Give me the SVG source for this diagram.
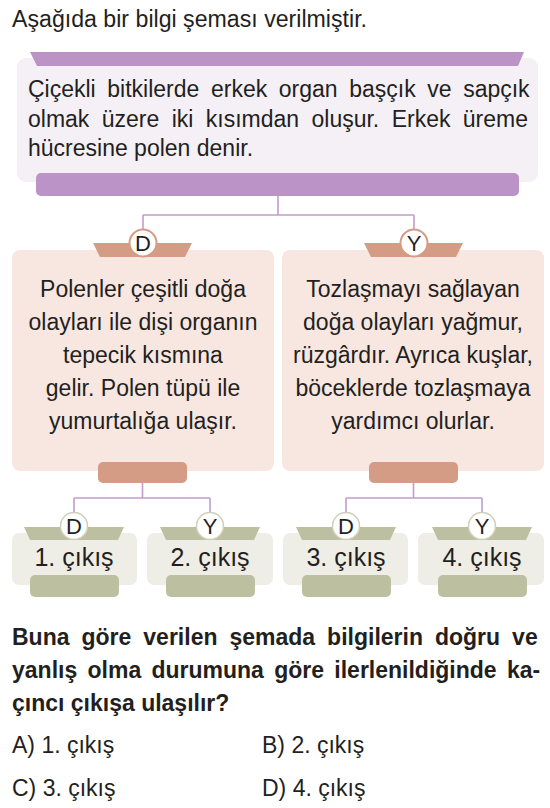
<svg xmlns="http://www.w3.org/2000/svg" width="550" height="808" viewBox="0 0 550 808">
<style>
text{font-family:"Liberation Sans",Arial,sans-serif;fill:#231f20}
.t{font-size:23px}
.c{text-anchor:middle}
.b{font-weight:bold}
.lav{fill:#f4f0f6}
.pur{fill:#bc93c6}
.peach{fill:#f8e7e0}
.tan{fill:#d59c85}
.olv{fill:#bdc0a0}
.ex{fill:#eeede6}
.ct{fill:#fff;stroke:#d59c85;stroke-width:2}
.cb{fill:#fff;stroke:#cfd0ba;stroke-width:1.5}
.lt{font-size:22px;text-anchor:middle}
.el{font-size:25px;text-anchor:middle}
.con{fill:none;stroke:#c29dcc;stroke-width:1.6}
</style>
<text class="t" x="12" y="27" textLength="355" lengthAdjust="spacingAndGlyphs">Aşağıda bir bilgi şeması verilmiştir.</text>

<g id="connectors">
<path class="con" d="M278,196V215M143,215H414M143,215V229M414,215V229"/>
<path class="con" d="M142.5,483V498M74,498H210M74,498V512.5M210,498V512.5"/>
<path class="con" d="M413.5,483V498M346,498H482M346,498V512.5M482,498V512.5"/>
</g>

<g id="info">
<rect class="lav" x="17" y="58" width="521" height="124" rx="9"/>
<polygon class="pur" points="30,52 524,52 518,66 37,66"/>
<text class="t" x="28" y="97" word-spacing="5.2">Çiçekli bitkilerde erkek organ başçık ve sapçık</text>
<text class="t" x="28" y="126.5" word-spacing="6">olmak üzere iki kısımdan oluşur. Erkek üreme</text>
<text class="t" x="28" y="156">hücresine polen denir.</text>
<rect class="pur" x="36" y="173" width="483" height="23" rx="5"/>
</g>

<g id="node-d">
<rect class="peach" x="12" y="250" width="262" height="221" rx="8"/>
<polygon class="tan" points="93,243 192,243 185,257 100,257"/>
<circle class="ct" cx="143" cy="243" r="13.5"/>
<text class="lt" x="143" y="251">D</text>
<text class="t c" x="143" y="297">Polenler çeşitli doğa</text>
<text class="t c" x="143" y="330">olayları ile dişi organın</text>
<text class="t c" x="143" y="363">tepecik kısmına</text>
<text class="t c" x="143" y="396">gelir. Polen tüpü ile</text>
<text class="t c" x="143" y="429">yumurtalığa ulaşır.</text>
<rect class="tan" x="98" y="462" width="89" height="21" rx="5"/>
</g>

<g id="node-y">
<rect class="peach" x="282" y="250" width="262" height="221" rx="8"/>
<polygon class="tan" points="364,243 463,243 456,257 371,257"/>
<circle class="ct" cx="414" cy="243" r="13.5"/>
<text class="lt" x="414" y="251">Y</text>
<text class="t c" x="413" y="297">Tozlaşmayı sağlayan</text>
<text class="t c" x="413" y="330">doğa olayları yağmur,</text>
<text class="t c" x="413" y="363">rüzgârdır. Ayrıca kuşlar,</text>
<text class="t c" x="413" y="396">böceklerde tozlaşmaya</text>
<text class="t c" x="413" y="429">yardımcı olurlar.</text>
<rect class="tan" x="369" y="462" width="89" height="21" rx="5"/>
</g>

<g id="exit-1">
<rect class="ex" x="12" y="533" width="125" height="52" rx="7"/>
<polygon class="olv" points="24,527 124,527 118,540 30,540"/>
<circle class="cb" cx="74" cy="526" r="13.5"/>
<text class="lt" x="74" y="534">D</text>
<text class="el" x="74" y="566">1. çıkış</text>
<rect class="olv" x="30" y="575" width="89" height="22" rx="5"/>
</g>
<g id="exit-2">
<rect class="ex" x="147" y="533" width="126" height="52" rx="7"/>
<polygon class="olv" points="160,527 260,527 254,540 166,540"/>
<circle class="cb" cx="210" cy="526" r="13.5"/>
<text class="lt" x="210" y="534">Y</text>
<text class="el" x="210" y="566">2. çıkış</text>
<rect class="olv" x="166" y="575" width="89" height="22" rx="5"/>
</g>
<g id="exit-3">
<rect class="ex" x="283" y="533" width="125" height="52" rx="7"/>
<polygon class="olv" points="296,527 396,527 390,540 302,540"/>
<circle class="cb" cx="346" cy="526" r="13.5"/>
<text class="lt" x="346" y="534">D</text>
<text class="el" x="346" y="566">3. çıkış</text>
<rect class="olv" x="302" y="575" width="89" height="22" rx="5"/>
</g>
<g id="exit-4">
<rect class="ex" x="418" y="533" width="126" height="52" rx="7"/>
<polygon class="olv" points="432,527 532,527 526,540 438,540"/>
<circle class="cb" cx="482" cy="526" r="13.5"/>
<text class="lt" x="482" y="534">Y</text>
<text class="el" x="482" y="566">4. çıkış</text>
<rect class="olv" x="438" y="575" width="89" height="22" rx="5"/>
</g>

<text class="t b" x="12" y="645" word-spacing="5.6">Buna göre verilen şemada bilgilerin doğru ve</text>
<text class="t b" x="12" y="678" word-spacing="3.9">yanlış olma durumuna göre ilerlenildiğinde ka-</text>
<text class="t b" x="12" y="711">çıncı çıkışa ulaşılır?</text>
<text class="t" x="12" y="753">A) 1. çıkış</text>
<text class="t" x="262" y="753">B) 2. çıkış</text>
<text class="t" x="12" y="796">C) 3. çıkış</text>
<text class="t" x="262" y="796">D) 4. çıkış</text>
</svg>
